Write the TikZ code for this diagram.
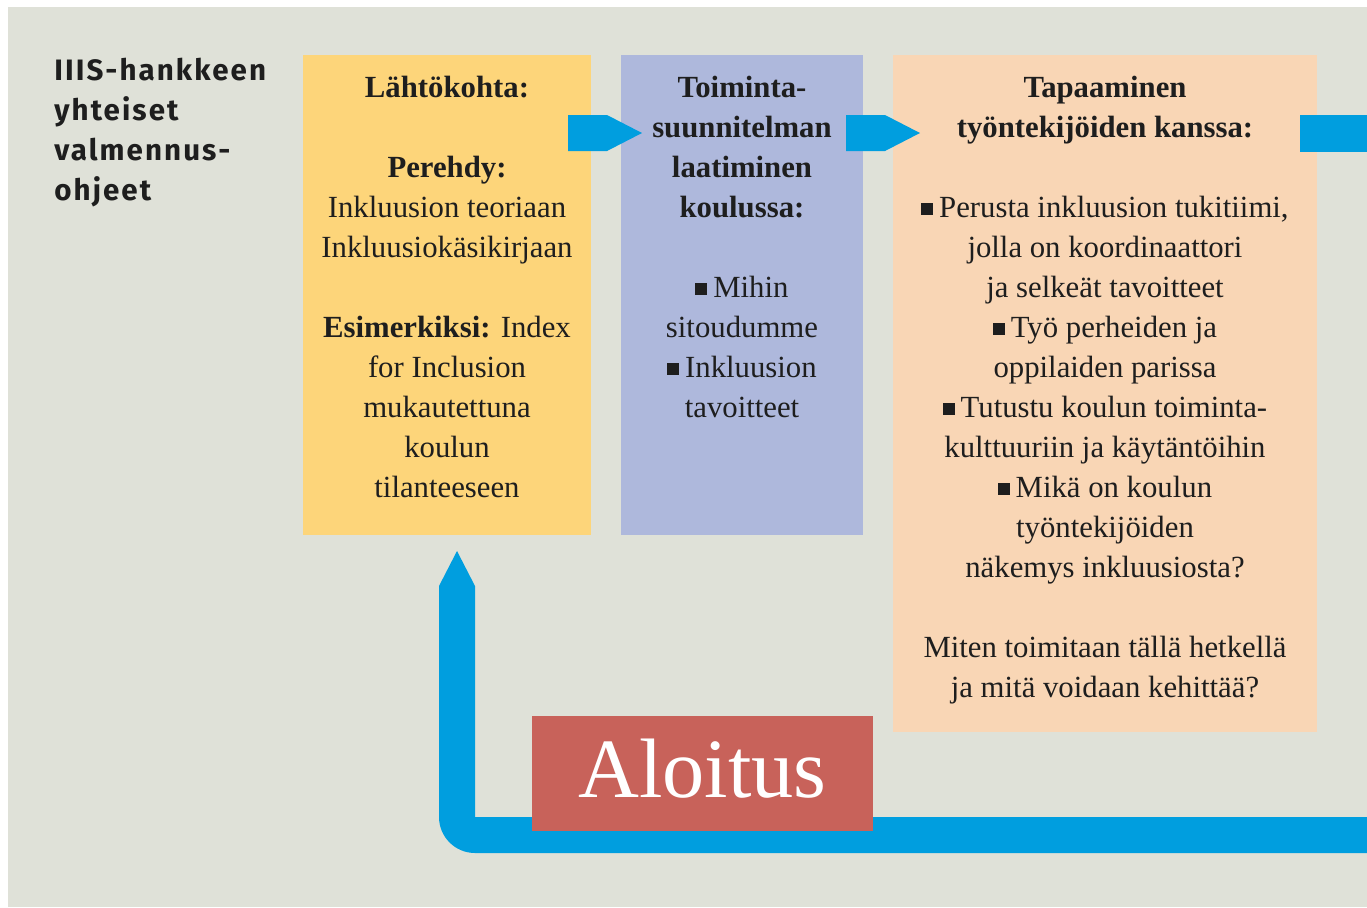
\documentclass[tikz,border=0pt]{standalone}
\usepackage{fontspec}
\setmainfont{Liberation Serif}
\newfontfamily\titlefont[LetterSpace=7]{Fira Sans}
\usetikzlibrary{calc}

\definecolor{bgcol}{HTML}{DFE1D8}
\definecolor{yellowbox}{HTML}{FDD57A}
\definecolor{lavbox}{HTML}{AEB8DC}
\definecolor{peachbox}{HTML}{F9D6B5}
\definecolor{flowblue}{HTML}{009EDF}
\definecolor{redbox}{HTML}{C8625A}
\definecolor{ink}{HTML}{1E1E1E}

\newcommand{\sq}{\rule[0.08em]{0.38em}{0.38em}\hspace{0.2em}}
\newcommand{\topstrut}{\rule{0pt}{6mm}}

\begin{document}
\begin{tikzpicture}[x=0.2mm, y=-0.2mm,
    box/.style={anchor=north west, inner sep=0pt, outer sep=0pt},
    txt/.style={anchor=north, inner sep=0pt, align=center, text=ink,
        font=\fontsize{17.5}{22.76}\selectfont},
    flow/.style={fill=flowblue}]
            % \draw[help lines] (0,0) grid[step=100] (1367,907);
            \useasboundingbox (0,0) rectangle (1367,907);
            \fill[bgcol] (8,7) rectangle (1367,907);

            \node[align=left, anchor=north west, inner sep=0pt, text=ink,
                font=\titlefont\bfseries\fontsize{16.8}{22.76}\selectfont] (title) at (54,50)
                {\topstrut IIIS-hankkeen\\yhteiset\\valmennus-\\ohjeet};

            \node[box, fill=yellowbox, minimum width=57.6mm, minimum height=96mm] (lahto) at (303,55) {};
            \node[box, fill=lavbox, minimum width=48.4mm, minimum height=96mm] (toiminta) at (621,55) {};
            \node[box, fill=peachbox, minimum width=84.8mm, minimum height=135.4mm] (tapaa) at (893,55) {};

            \node[txt] (lahtotxt) at ($(lahto.north)+(0,12)$)
                {\topstrut\textbf{Lähtökohta:}\\[8mm]
                 \textbf{Perehdy:}\\Inkluusion teoriaan\\Inkluusiokäsikirjaan\\[8mm]
                 \textbf{Esimerkiksi:} Index\\for Inclusion\\mukautettuna\\koulun\\tilanteeseen};
            \node[txt] (toimintatxt) at ($(toiminta.north)+(0,12)$)
                {\topstrut\textbf{Toiminta-}\\\textbf{suunnitelman}\\\textbf{laatiminen}\\\textbf{koulussa:}\\[8mm]
                 \sq Mihin\\sitoudumme\\\sq Inkluusion\\tavoitteet};
            \node[txt] (tapaatxt) at ($(tapaa.north)+(0,12)$)
                {\topstrut\textbf{Tapaaminen}\\\textbf{työntekijöiden kanssa:}\\[8mm]
                 \sq Perusta inkluusion tukitiimi,\\jolla on koordinaattori\\ja selkeät tavoitteet\\
                 \sq Työ perheiden ja\\oppilaiden parissa\\
                 \sq Tutustu koulun toiminta-\\kulttuuriin ja käytäntöihin\\
                 \sq Mikä on koulun\\työntekijöiden\\näkemys inkluusiosta?\\[8mm]
                 Miten toimitaan tällä hetkellä\\ja mitä voidaan kehittää?};

            % arrows between the boxes
            \coordinate (s1) at ($(lahto.north east)+(-23,78)$);
            \coordinate (t1) at ($(toiminta.north west)+(21,78)$);
            \fill[flow] ($(s1)+(0,-18)$) -- ($(t1)+(-35,-18)$) -- (t1) -- ($(t1)+(-35,18)$) -- ($(s1)+(0,18)$) -- cycle;
            \coordinate (s2) at ($(toiminta.north east)+(-17,78)$);
            \coordinate (t2) at ($(tapaa.north west)+(27,78)$);
            \fill[flow] ($(s2)+(0,-18)$) -- ($(t2)+(-35,-18)$) -- (t2) -- ($(t2)+(-35,18)$) -- ($(s2)+(0,18)$) -- cycle;
            \coordinate (s3) at ($(tapaa.north east)+(-17,78.5)$);
            \coordinate (e3) at (1367,133.5);
            \fill[flow] ($(s3)+(0,-18.5)$) rectangle ($(e3)+(0,18.5)$);

            % loop back to the start
            \coordinate (t4) at ($(lahto.south)+(10,16)$);
            \coordinate (e4) at (1367,835);
            \fill[flow] ($(e4)+(0,-18)$) -- ($(t4)+(18,266)$) -- ($(t4)+(18,35)$) -- (t4)
                -- ($(t4)+(-18,35)$) -- ($(t4)+(-18,266)$) arc[start angle=180, end angle=90, radius=36]
                -- ($(e4)+(0,18)$) -- cycle;

            \node[box, fill=redbox, minimum width=68.2mm, minimum height=23mm, text=white,
                font=\fontsize{48}{56}\selectfont] (aloitus) at (532,716) {\raisebox{2mm}{Aloitus}};
        \end{tikzpicture}
\end{document}
